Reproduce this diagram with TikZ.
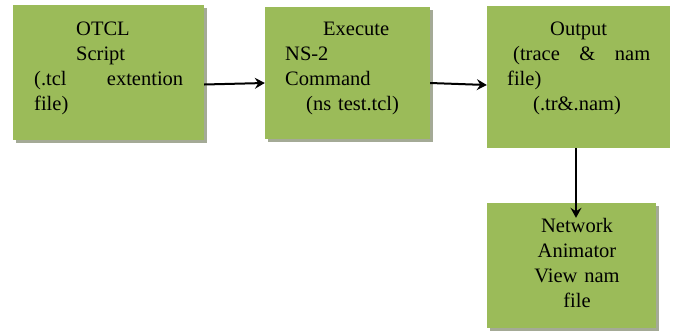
\documentclass[tikz,border=0pt]{standalone}
\usepackage{fontspec}
\setmainfont{Liberation Serif}
\usetikzlibrary{arrows.meta,shadows}
\definecolor{boxgreen}{HTML}{9BBB59}
\definecolor{boxshadow}{HTML}{A4AA96}
\newcommand{\fillgap}{\hspace{0pt plus 1filll}}

\begin{document}
\begin{tikzpicture}[x=1pt,y=-1pt]
    \tikzstyle{arrow} = [line width=2pt,-{Stealth[length=10pt,width=11pt,inset=3.5pt]}]
    \tikzstyle{box} = [rectangle, fill=boxgreen, inner sep=0pt]
    \tikzstyle{shade} = [drop shadow={shadow xshift=3pt, shadow yshift=-3pt, fill=boxshadow, opacity=1}]
    \tikzstyle{txt} = [inner sep=0pt, font=\fontsize{20.5}{25}\selectfont]
    \useasboundingbox (0,0) rectangle (675,333);

    % Left box, the script
    \node [box, shade, minimum width=191pt, minimum height=135pt] (Script) at (108.5,72.5) {};
    \node [txt, text width=149pt, align=left, anchor=base west] (ScriptText) at (34,35)
          {\hspace*{42pt}OTCL\\\hspace*{42pt}Script\\(.tcl\fillgap extention\\file)};

    % Middle box, the ns command
    \node [box, shade, minimum width=165pt, minimum height=132pt] (Execute) at (347.5,73) {};
    \node [txt, text width=130pt, align=left, anchor=base west] (ExecuteText) at (285,35)
          {\hspace*{38pt}Execute\\NS-2\\Command\\\hspace*{21pt}(ns test.tcl)};
    \draw [arrow] ([yshift=-12pt]Script.east) -- ([yshift=-10pt]Execute.west);

    % Right box, the output files
    \node [box, minimum width=183pt, minimum height=142pt] (Output) at (578.5,77) {};
    \node [txt, text width=143pt, align=left, anchor=base west] (OutputText) at (507,35)
          {\hspace*{43pt}Output\\\hspace*{6pt}(trace\fillgap\&\fillgap nam\\file)\\\hspace*{26pt}(.tr\&.nam)};
    \draw [arrow] ([yshift=-10pt]Execute.east) -- ([yshift=-8pt]Output.west);

    % Bottom box, nam
    \node [box, shade, minimum width=169pt, minimum height=125pt] (Nam) at (571.5,265.5) {};
    \node [txt, text width=150pt, align=center, anchor=base] (NamText) at (577,232)
          {Network\\Animator\\View nam\\file};
    \draw [arrow] ([xshift=-2.5pt]Output.south) -- ([xshift=4.5pt,yshift=-15pt]Nam.north);
\end{tikzpicture}
\end{document}
